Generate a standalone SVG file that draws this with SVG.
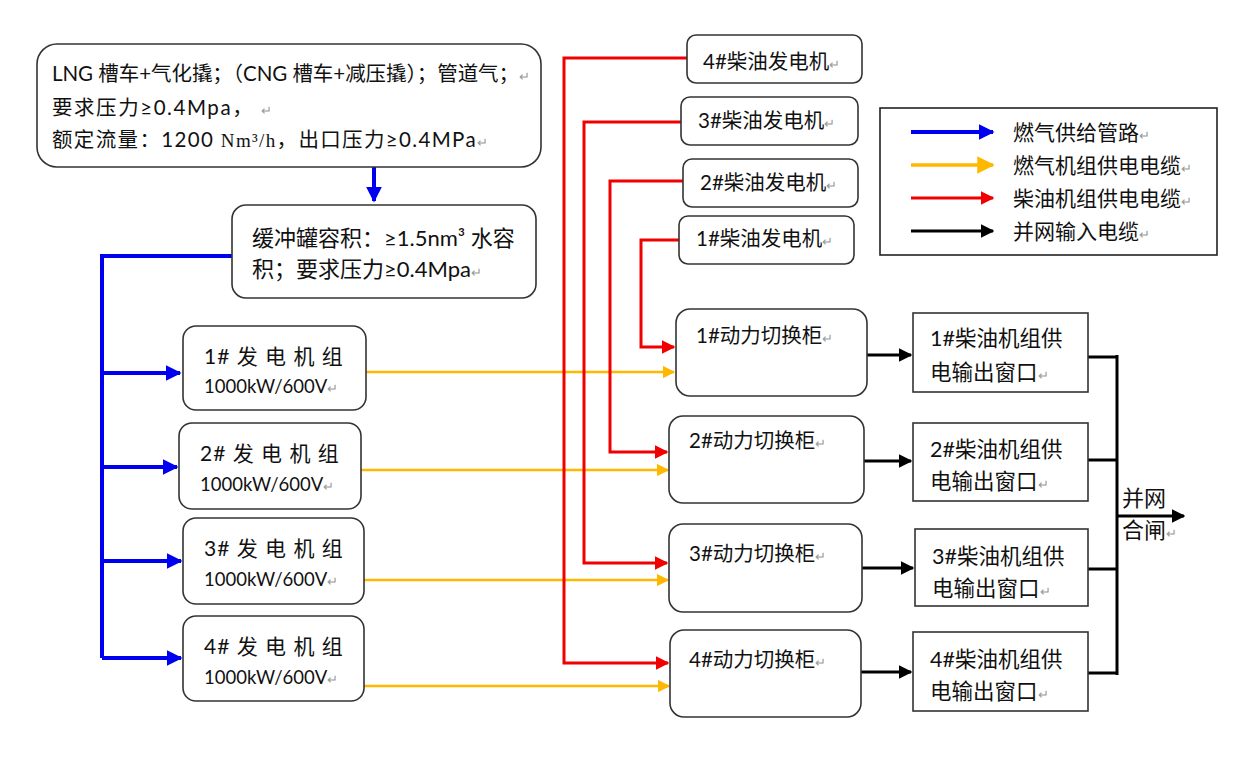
<svg xmlns="http://www.w3.org/2000/svg" width="1250" height="757" viewBox="0 0 1250 757">
<style>
.box{fill:#fff;stroke:#333;stroke-width:1.6}
.t{font-family:"Lato","Noto Sans CJK SC",sans-serif;fill:#111}
.pm{fill:#999;font-size:13px}
.blue{stroke:#0000f0;stroke-width:4;fill:none}
.yel{stroke:#ffb800;stroke-width:2.5;fill:none}
.red{stroke:#f00000;stroke-width:3;fill:none}
.blk{stroke:#000;stroke-width:3;fill:none}
</style>
<defs>
<marker id="ab" viewBox="0 0 10 10" refX="9" refY="5" markerWidth="4" markerHeight="4" orient="auto" markerUnits="strokeWidth"><path d="M0,0L10,5L0,10z" fill="#0000f0"/></marker>
<marker id="ay" viewBox="0 0 10 10" refX="9" refY="5" markerWidth="5" markerHeight="5" orient="auto" markerUnits="strokeWidth"><path d="M0,0L10,5L0,10z" fill="#ffb800"/></marker>
<marker id="ar" viewBox="0 0 10 10" refX="9" refY="5" markerWidth="4.5" markerHeight="4.5" orient="auto" markerUnits="strokeWidth"><path d="M0,0L10,5L0,10z" fill="#f00000"/></marker>
<marker id="ak" viewBox="0 0 10 10" refX="9" refY="5" markerWidth="4.5" markerHeight="4.5" orient="auto" markerUnits="strokeWidth"><path d="M0,0L10,5L0,10z" fill="#000"/></marker>
</defs>
<rect width="1250" height="757" fill="#fff"/>

<g id="connectors">
<path class="blue" d="M374,167V201" marker-end="url(#ab)"/>
<path class="blue" d="M232,256H102V658"/>
<path class="blue" d="M102,373H180" marker-end="url(#ab)"/>
<path class="blue" d="M102,467H177" marker-end="url(#ab)"/>
<path class="blue" d="M102,561H181" marker-end="url(#ab)"/>
<path class="blue" d="M102,658H181" marker-end="url(#ab)"/>
<path class="yel" d="M366,372H674" marker-end="url(#ay)"/>
<path class="yel" d="M361,470H668" marker-end="url(#ay)"/>
<path class="yel" d="M364,580H668" marker-end="url(#ay)"/>
<path class="yel" d="M364,686H669" marker-end="url(#ay)"/>
<path class="red" d="M679,240H641V347H674" marker-end="url(#ar)"/>
<path class="red" d="M683,181H610V452H667" marker-end="url(#ar)"/>
<path class="red" d="M681,122H584V563H667" marker-end="url(#ar)"/>
<path class="red" d="M687,58H564V663H668" marker-end="url(#ar)"/>
<path class="blk" d="M867,355H911" marker-end="url(#ak)"/>
<path class="blk" d="M864,461H911" marker-end="url(#ak)"/>
<path class="blk" d="M862,568H913" marker-end="url(#ak)"/>
<path class="blk" d="M861,672H911" marker-end="url(#ak)"/>
<path class="blk" d="M1088,357H1117M1088,460H1117M1088,569H1117M1088,673H1117M1117,355V675"/>
<path class="blk" d="M1117,516H1184" marker-end="url(#ak)"/>
</g>

<g id="source">
<rect class="box" x="37" y="44" width="504" height="123" rx="20"/>
<text class="t" x="52" y="81" font-size="20.5" textLength="478">LNG 槽车+气化撬；（CNG 槽车+减压撬）；管道气；<tspan class="pm">↵</tspan></text>
<text class="t" x="52" y="115" font-size="20.5" textLength="220">要求压力≥0.4Mpa， <tspan class="pm">↵</tspan></text>
<text class="t" x="52" y="147" font-size="20.5" textLength="436">额定流量：1200 <tspan font-family="Liberation Serif" font-size="19">Nm³/h</tspan>，出口压力≥0.4MPa<tspan class="pm">↵</tspan></text>
</g>

<g id="buffer">
<rect class="box" x="232" y="205" width="304" height="93" rx="14"/>
<text class="t" x="252" y="246" font-size="22">缓冲罐容积：≥1.5nm³ 水容</text>
<text class="t" x="252" y="277" font-size="22">积；要求压力≥0.4Mpa<tspan class="pm">↵</tspan></text>
</g>

<g id="gen1">
<rect class="box" x="183" y="326" width="183" height="84" rx="13"/>
<text class="t" x="204" y="364" font-size="21" letter-spacing="1">1# 发 电 机 组</text>
<text class="t" x="204" y="393" font-size="18.5">1000kW/600V<tspan class="pm">↵</tspan></text>
</g>
<g id="gen2">
<rect class="box" x="179" y="423" width="182" height="86" rx="13"/>
<text class="t" x="200" y="461" font-size="21" letter-spacing="1">2# 发 电 机 组</text>
<text class="t" x="200" y="491" font-size="18.5">1000kW/600V<tspan class="pm">↵</tspan></text>
</g>
<g id="gen3">
<rect class="box" x="183" y="518" width="181" height="86" rx="13"/>
<text class="t" x="204" y="556" font-size="21" letter-spacing="1">3# 发 电 机 组</text>
<text class="t" x="204" y="586" font-size="18.5">1000kW/600V<tspan class="pm">↵</tspan></text>
</g>
<g id="gen4">
<rect class="box" x="183" y="616" width="181" height="85" rx="13"/>
<text class="t" x="204" y="654" font-size="21" letter-spacing="1">4# 发 电 机 组</text>
<text class="t" x="204" y="684" font-size="18.5">1000kW/600V<tspan class="pm">↵</tspan></text>
</g>

<g id="diesel4">
<rect class="box" x="687" y="35" width="175" height="48" rx="9"/>
<text class="t" x="703" y="69" font-size="20.5">4#柴油发电机<tspan class="pm">↵</tspan></text>
</g>
<g id="diesel3">
<rect class="box" x="681" y="97" width="177" height="48" rx="9"/>
<text class="t" x="698" y="128" font-size="20.5">3#柴油发电机<tspan class="pm">↵</tspan></text>
</g>
<g id="diesel2">
<rect class="box" x="683" y="159" width="175" height="48" rx="9"/>
<text class="t" x="700" y="190" font-size="20.5">2#柴油发电机<tspan class="pm">↵</tspan></text>
</g>
<g id="diesel1">
<rect class="box" x="679" y="216" width="175" height="48" rx="9"/>
<text class="t" x="696" y="246" font-size="20.5">1#柴油发电机<tspan class="pm">↵</tspan></text>
</g>

<g id="switch1">
<rect class="box" x="676" y="309" width="191" height="87" rx="14"/>
<text class="t" x="696" y="343" font-size="20.5">1#动力切换柜<tspan class="pm">↵</tspan></text>
</g>
<g id="switch2">
<rect class="box" x="669" y="416" width="195" height="87" rx="14"/>
<text class="t" x="689" y="448" font-size="20.5">2#动力切换柜<tspan class="pm">↵</tspan></text>
</g>
<g id="switch3">
<rect class="box" x="669" y="524" width="193" height="88" rx="14"/>
<text class="t" x="689" y="561" font-size="20.5">3#动力切换柜<tspan class="pm">↵</tspan></text>
</g>
<g id="switch4">
<rect class="box" x="670" y="630" width="191" height="87" rx="14"/>
<text class="t" x="689" y="667" font-size="20.5">4#动力切换柜<tspan class="pm">↵</tspan></text>
</g>

<g id="out1">
<rect class="box" x="913" y="313" width="175" height="79"/>
<text class="t" x="930" y="346" font-size="21.5">1#柴油机组供</text>
<text class="t" x="930" y="380" font-size="21.5">电输出窗口<tspan class="pm">↵</tspan></text>
</g>
<g id="out2">
<rect class="box" x="913" y="423" width="175" height="78"/>
<text class="t" x="930" y="457" font-size="21.5">2#柴油机组供</text>
<text class="t" x="930" y="489" font-size="21.5">电输出窗口<tspan class="pm">↵</tspan></text>
</g>
<g id="out3">
<rect class="box" x="915" y="529" width="173" height="77"/>
<text class="t" x="932" y="564" font-size="21.5">3#柴油机组供</text>
<text class="t" x="932" y="596" font-size="21.5">电输出窗口<tspan class="pm">↵</tspan></text>
</g>
<g id="out4">
<rect class="box" x="913" y="632" width="175" height="79"/>
<text class="t" x="930" y="667" font-size="21.5">4#柴油机组供</text>
<text class="t" x="930" y="699" font-size="21.5">电输出窗口<tspan class="pm">↵</tspan></text>
</g>

<g id="grid-label">
<text class="t" x="1122" y="506" font-size="22">并网</text>
<text class="t" x="1122" y="538" font-size="22">合闸<tspan class="pm">↵</tspan></text>
</g>

<g id="legend">
<rect x="880" y="108" width="337" height="147" fill="#fff" stroke="#222" stroke-width="1.6"/>
<path class="blue" d="M911,132H993" stroke-width="3.5" marker-end="url(#ab)"/>
<path class="yel" d="M911,165H993" style="stroke-width:3.5" marker-end="url(#ay)"/>
<path class="red" d="M911,198H993" stroke-width="3.5" marker-end="url(#ar)"/>
<path class="blk" d="M911,231H993" stroke-width="3.5" marker-end="url(#ak)"/>
<text class="t" x="1013" y="140" font-size="21">燃气供给管路<tspan class="pm">↵</tspan></text>
<text class="t" x="1013" y="173" font-size="21">燃气机组供电电缆<tspan class="pm">↵</tspan></text>
<text class="t" x="1013" y="206" font-size="21">柴油机组供电电缆<tspan class="pm">↵</tspan></text>
<text class="t" x="1013" y="239" font-size="21">并网输入电缆<tspan class="pm">↵</tspan></text>
</g>
</svg>
